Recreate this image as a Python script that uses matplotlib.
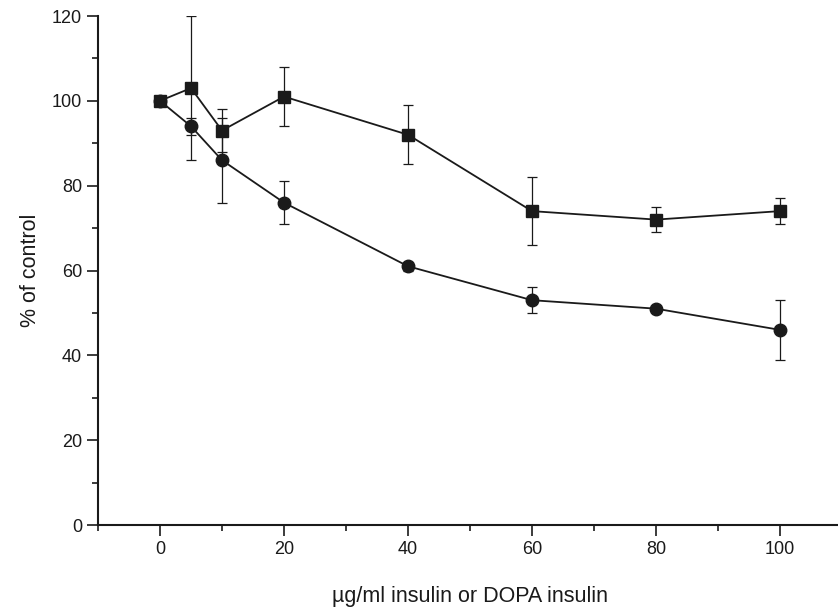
import matplotlib
matplotlib.use('Agg')
import matplotlib.pyplot as plt
from matplotlib.ticker import MultipleLocator

plt.rcParams['font.family'] = ['Liberation Sans', 'DejaVu Sans']

# concentrations (ug/ml)
dose = [0, 5, 10, 20, 40, 60, 80, 100]

# squares: insulin
sq_vals = [100, 103, 93, 101, 92, 74, 72, 74]
sq_err = [0, 17, 5, 7, 7, 8, 3, 3]

# circles: DOPA insulin
ci_vals = [100, 94, 86, 76, 61, 53, 51, 46]
ci_err = [0, 2, 10, 5, 1, 3, 0.5, 7]

ink = '#1a1a1a'

fig = plt.figure(figsize=(8.38, 6.10), dpi=100)
ax = fig.add_axes([98 / 838, 85 / 610, 744 / 838, 509 / 610])

ax.errorbar(dose, sq_vals, yerr=sq_err, color=ink, marker='s', markersize=8.5,
            linewidth=1.3, elinewidth=0.9, capsize=3.5, capthick=0.9)
ax.errorbar(dose, ci_vals, yerr=ci_err, color=ink, marker='o', markersize=9,
            linewidth=1.3, elinewidth=0.9, capsize=3.5, capthick=0.9)

ax.set_xlim(-10, 110)
ax.set_ylim(0, 120)
ax.xaxis.set_major_locator(MultipleLocator(20))
ax.xaxis.set_minor_locator(MultipleLocator(10))
ax.yaxis.set_major_locator(MultipleLocator(20))
ax.yaxis.set_minor_locator(MultipleLocator(10))
ax.tick_params(which='major', direction='out', length=8, width=1.2, labelsize=13, colors=ink)
ax.tick_params(which='minor', direction='out', length=4, width=1.2, colors=ink)

ax.spines['top'].set_visible(False)
ax.spines['right'].set_visible(False)
for s in ('left', 'bottom'):
    ax.spines[s].set_linewidth(1.5)
    ax.spines[s].set_color(ink)

ax.set_xlabel('\u00b5g/ml insulin or DOPA insulin', fontsize=15.5, color=ink, labelpad=20)
ax.set_ylabel('% of control', fontsize=15.5, color=ink, labelpad=8)

fig.savefig('out.png', dpi=100)
